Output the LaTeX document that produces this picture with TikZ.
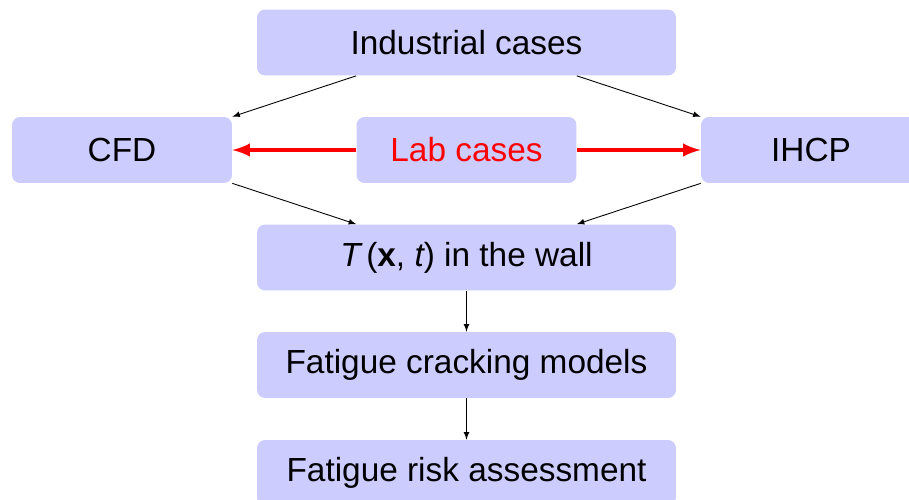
\documentclass[tikz,border=0pt]{standalone}
\usepackage{fontspec}
\setmainfont{Liberation Sans}
\usetikzlibrary{arrows}
\definecolor{boxblue}{RGB}{204,204,255}

\begin{document}
\begin{tikzpicture}[x=0.02cm,y=-0.02cm,
    box/.style={fill=boxblue,rounded corners=0.16cm,inner sep=0pt,
        minimum height=1.32cm,font=\fontsize{19}{23}\selectfont},
    wide/.style={box,minimum width=8.38cm},
    side/.style={box,minimum width=4.4cm},
    thin arrow/.style={-latex,line width=0.5pt},
    red arrow/.style={-latex,red,line width=2.4pt}]
            \useasboundingbox (0,0) rectangle (909,500);
            \node[wide] (ind) at (466.5,42.5) {Industrial cases};
            \node[side] (cfd) at (122,150) {CFD};
            \node[side,text=red] (lab) at (466.5,150) {Lab cases};
            \node[side] (ihcp) at (811,150) {IHCP};
            \node[wide] (wall) at (466.5,257.5) {{\itshape T\,}(\textbf{x}, {\itshape t}) in the wall};
            \node[wide] (crack) at (466.5,365) {Fatigue cracking models};
            \node[wide] (risk) at (466.5,473) {Fatigue risk assessment};
            % lab data feeds both methods
            \draw[red arrow] (lab.west)--(cfd.east);
            \draw[red arrow] (lab.east)--(ihcp.west);
            \draw[thin arrow] (ind.south -| lab.west)--(cfd.north east);
            \draw[thin arrow] (ind.south -| lab.east)--(ihcp.north west);
            \draw[thin arrow] (cfd.south east)--(wall.north -| lab.west);
            \draw[thin arrow] (ihcp.south west)--(wall.north -| lab.east);
            \draw[thin arrow] (wall.south)--(crack.north);
            \draw[thin arrow] (crack.south)--(risk.north);
        \end{tikzpicture}
\end{document}
